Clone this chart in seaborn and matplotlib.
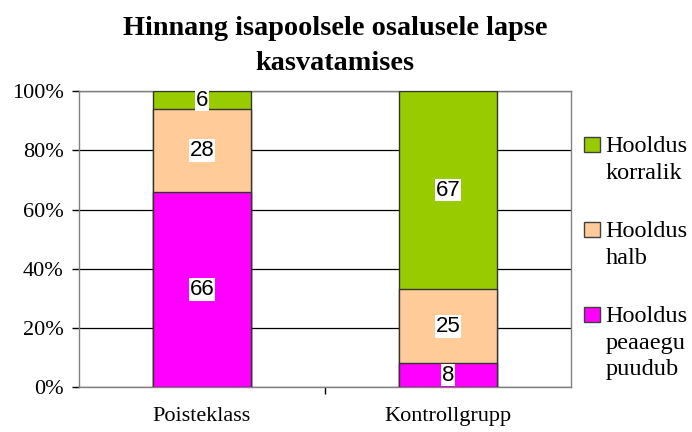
import numpy as np
import pandas as pd
import matplotlib
matplotlib.use("Agg")
import matplotlib.pyplot as plt
import matplotlib.patches as mpatches
from matplotlib.legend_handler import HandlerPatch
from matplotlib.ticker import FixedLocator
import seaborn as sns

# ------------ #
# Chart values #
# ------------ #
groups = ["Poisteklass", "Kontrollgrupp"]
series = ["Hooldus peaaegu puudub", "Hooldus halb", "Hooldus korralik"]
legend_labels = ["Hooldus\npeaaegu\npuudub", "Hooldus\nhalb", "Hooldus\nkorralik"]
peaaegu_puudub = [66, 8]
halb = [28, 25]
korralik = [6, 67]
colors = ["#FF00FF", "#FFCC99", "#99CC00"]
y_ticks = [0, 20, 40, 60, 80, 100]

df = pd.DataFrame({
    "group": groups,
    series[0]: peaaegu_puudub,
    series[1]: halb,
    series[2]: korralik,
})
cum = df[series].cumsum(axis=1)
df_cum = pd.concat([df[["group"]], cum], axis=1)

sns.set_style("white")
plt.rcParams["font.family"] = ["Liberation Serif", "DejaVu Serif"]
plt.rcParams["text.color"] = "black"
plt.rcParams["xtick.color"] = "black"
plt.rcParams["ytick.color"] = "black"

fig = plt.figure(figsize=(6.92, 4.32), dpi=100)
ax = fig.add_axes([0.114, 0.104, 0.711, 0.685])

# stacked bars: draw cumulative totals, tallest first
for s, c in reversed(list(zip(series, colors))):
    sns.barplot(data=df_cum, x="group", y=s, color=c, width=0.4,
                edgecolor="#333333", linewidth=1, saturation=1, ax=ax, zorder=3)

# value labels
for i, g in enumerate(groups):
    lower = 0
    for s in series:
        v = df.loc[i, s]
        ax.text(i, lower + v / 2, f"{v}", ha="center", va="center",
                fontsize=16, family="Liberation Sans", color="black", zorder=5,
                bbox=dict(facecolor="white", edgecolor="none", pad=0.5))
        lower += v

ax.set_ylim(0, 100)
ax.set_xlim(-0.5, 1.5)
ax.set_yticks(y_ticks)
ax.set_yticklabels([f"{t}%" for t in y_ticks], fontsize=16)
ax.yaxis.grid(True, color="black", linewidth=0.9)
ax.set_axisbelow(True)
ax.set_xlabel("")
ax.set_ylabel("")
ax.tick_params(axis="y", direction="out", length=5, width=1, color="black", left=True, pad=6)
ax.tick_params(axis="x", which="major", length=0, labelsize=16, pad=14)
ax.xaxis.set_minor_locator(FixedLocator([0.5]))
ax.tick_params(axis="x", which="minor", direction="out", length=5, width=1,
               color="black", bottom=True)
for side in ["left", "right", "top", "bottom"]:
    ax.spines[side].set_visible(True)
    ax.spines[side].set_color("#808080")
    ax.spines[side].set_linewidth(1)

fig.suptitle("Hinnang isapoolsele osalusele lapse\nkasvatamises",
             x=0.484, y=0.964, fontsize=20.3, fontweight="bold", linespacing=1.55,
             color="black")

# legend with square aligned to the first line of each label
n_lines = {lab: lab.count("\n") + 1 for lab in legend_labels}
LEG_LS = 1.35
LINE_STEP = 0.8 * LEG_LS


def top_square(legend, orig_handle, xdescent, ydescent, width, height, fontsize):
    n = n_lines[orig_handle.get_label()]
    side = 0.62 * fontsize
    cy = height / 2 - ydescent + (n - 1) / 2 * LINE_STEP * fontsize
    return mpatches.Rectangle((0, cy - side / 2 + 0.08 * fontsize), side, side)


handles = [mpatches.Patch(facecolor=c, edgecolor="#404040", linewidth=1, label=lab)
           for c, lab in zip(colors, legend_labels)]
leg = fig.legend(handles=handles[::-1], loc="upper left",
                 bbox_to_anchor=(0.813, 0.735), frameon=False, fontsize=17.5,
                 handlelength=0.62, handletextpad=0.25, labelspacing=1.53,
                 handler_map={mpatches.Patch: HandlerPatch(patch_func=top_square)})
for t in leg.get_texts():
    t.set_linespacing(LEG_LS)

fig.savefig("out.png", dpi=100)
